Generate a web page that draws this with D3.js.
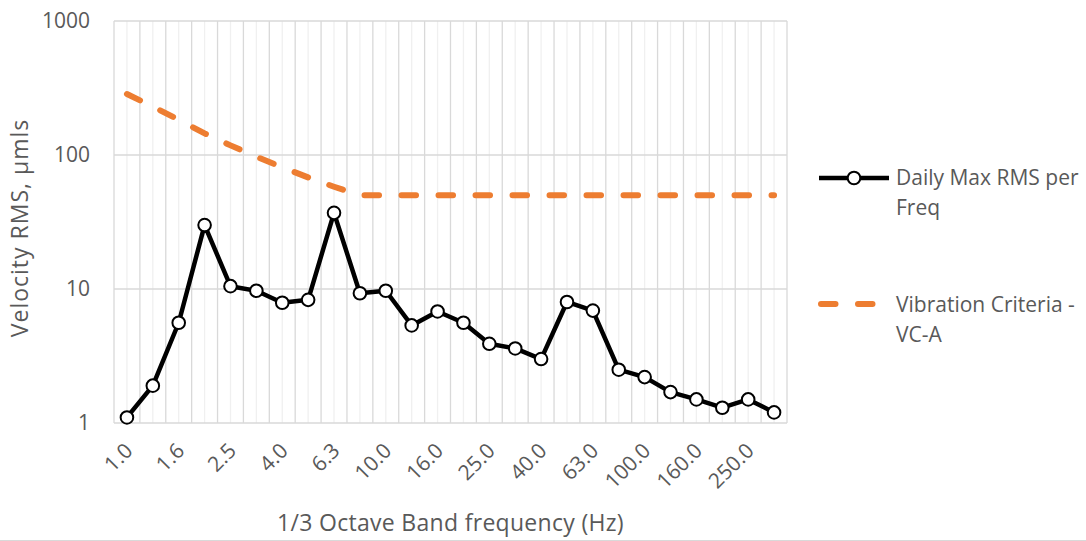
<!DOCTYPE html>
<html>
<head>
<meta charset="utf-8">
<script src="https://cdn.jsdelivr.net/npm/d3@7"></script>
<style>
  html, body { margin: 0; padding: 0; background: #fff; }
  svg text { font-family: "Open Sans", sans-serif; fill: #595959; }
</style>
</head>
<body>
<div id="chart"></div>
<script>
// 1/3 octave band centre frequencies (Hz)
const bands = ["1.0", "1.3", "1.6", "2.0", "2.5", "3.2", "4.0", "5.0", "6.3", "8.0", "10.0", "12.5", "16.0",
  "20.0", "25.0", "31.5", "40.0", "50.0", "63.0", "80.0", "100.0", "125.0", "160.0", "200.0", "250.0", "315.0"];
const dailyMax = [1.1, 1.9, 5.6, 30, 10.5, 9.7, 7.9, 8.3, 37, 9.3, 9.7, 5.35, 6.8,
  5.6, 3.9, 3.6, 3.0, 8.0, 6.9, 2.5, 2.2, 1.7, 1.5, 1.3, 1.5, 1.2];
const vcA = [285, 230, 183, 145, 118, 97, 81, 68, 58, 50, 50, 50, 50,
  50, 50, 50, 50, 50, 50, 50, 50, 50, 50, 50, 50, 50];
const yTicks = [1, 10, 100, 1000];
const seriesNames = [["Daily Max RMS per", "Freq"], ["Vibration Criteria -", "VC-A"]];

const width = 1086, height = 541;
const plot = { left: 114, right: 787, top: 21, bottom: 423 };

const svg = d3.select("#chart").append("svg")
  .attr("width", width).attr("height", height);

const x = d3.scaleBand().domain(bands).range([plot.left, plot.right]).padding(0);
const y = d3.scaleLog().domain([1, 1000]).range([plot.bottom, plot.top]);
const bw = x.bandwidth();
const cx = d => x(d) + bw / 2;

// grid: minor lines at band centres, major at band edges
const grid = svg.append("g");
grid.selectAll(".minor").data(bands).enter().append("line")
  .attr("x1", cx).attr("x2", cx)
  .attr("y1", plot.top).attr("y2", plot.bottom)
  .attr("stroke", "#f0f0f0").attr("stroke-width", 1.3);
const edges = d3.range(bands.length + 1).map(i => plot.left + i * bw);
grid.selectAll(".major").data(edges).enter().append("line")
  .attr("x1", d => d).attr("x2", d => d)
  .attr("y1", plot.top).attr("y2", plot.bottom)
  .attr("stroke", "#d9d9d9").attr("stroke-width", 1.3);
grid.selectAll(".hgrid").data(yTicks).enter().append("line")
  .attr("x1", plot.left).attr("x2", plot.right)
  .attr("y1", d => y(d)).attr("y2", d => y(d))
  .attr("stroke", "#d9d9d9").attr("stroke-width", 1.3);

// y axis labels
svg.append("g").selectAll("text").data(yTicks).enter().append("text")
  .attr("x", 90).attr("y", d => y(d))
  .attr("dy", "0.35em")
  .attr("text-anchor", "end")
  .style("font-size", "21px")
  .text(d => d);

// x axis labels (every second band)
svg.append("g").selectAll("text").data(bands.filter((d, i) => i % 2 === 0)).enter().append("text")
  .attr("transform", d => `translate(${cx(d) + 7}, 452) rotate(-45)`)
  .attr("text-anchor", "end")
  .style("font-size", "21px")
  .text(d => d);

// axis titles
svg.append("text")
  .attr("transform", `translate(28, 228) rotate(-90)`)
  .attr("text-anchor", "middle")
  .style("font-size", "23px")
  .style("letter-spacing", "1px")
  .text("Velocity RMS, µmls");

svg.append("text")
  .attr("x", (plot.left + plot.right) / 2).attr("y", 531)
  .attr("text-anchor", "middle")
  .style("font-size", "23px")
  .style("letter-spacing", "0.3px")
  .text("1/3 Octave Band frequency (Hz)");

// VC-A criterion line
const line = d3.line().x((d, i) => cx(bands[i])).y(d => y(d));
svg.append("path")
  .datum(vcA)
  .attr("d", line)
  .attr("fill", "none")
  .attr("stroke", "#ed7d31")
  .attr("stroke-width", 6)
  .attr("stroke-linecap", "round")
  .attr("stroke-dasharray", "14.5,22.5");

// measured series
svg.append("path")
  .datum(dailyMax)
  .attr("d", line)
  .attr("fill", "none")
  .attr("stroke", "#000")
  .attr("stroke-width", 4.5)
  .attr("stroke-linejoin", "round");

svg.append("g").selectAll("circle").data(dailyMax).enter().append("circle")
  .attr("cx", (d, i) => cx(bands[i]))
  .attr("cy", d => y(d))
  .attr("r", 6.3)
  .attr("fill", "#fff")
  .attr("stroke", "#000")
  .attr("stroke-width", 2);

// legend
const lg = svg.append("g");
lg.append("line").attr("x1", 819).attr("x2", 889).attr("y1", 178).attr("y2", 178)
  .attr("stroke", "#000").attr("stroke-width", 4.5);
lg.append("circle").attr("cx", 854).attr("cy", 178).attr("r", 6.3)
  .attr("fill", "#fff").attr("stroke", "#000").attr("stroke-width", 2);
lg.append("line").attr("x1", 821).attr("x2", 875).attr("y1", 304).attr("y2", 304)
  .attr("stroke", "#ed7d31").attr("stroke-width", 6)
  .attr("stroke-linecap", "round").attr("stroke-dasharray", "14.5,22.5");

const legendY = [185, 312];
seriesNames.forEach((lines, k) => {
  const t = lg.append("text").attr("x", 896).attr("y", legendY[k]).style("font-size", "21px");
  lines.forEach((s, j) => t.append("tspan").attr("x", 896).attr("dy", j === 0 ? 0 : 30).text(s));
});

// bottom frame line of chart area
svg.append("line").attr("x1", 0).attr("x2", width).attr("y1", 540.5).attr("y2", 540.5)
  .attr("stroke", "#d9d9d9").attr("stroke-width", 1);
</script>
</body>
</html>
